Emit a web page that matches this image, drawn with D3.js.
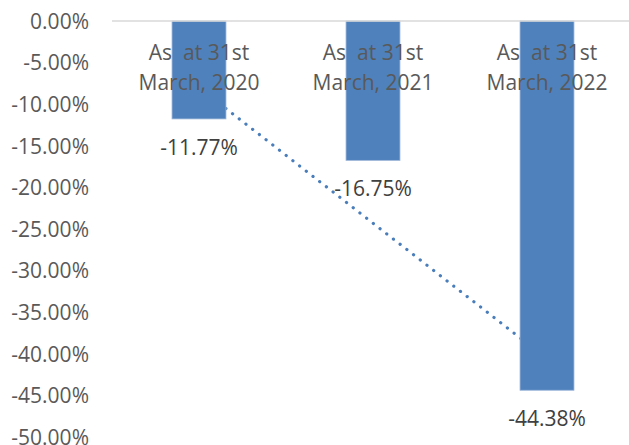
<!DOCTYPE html>
<html>
<head>
<meta charset="utf-8">
<script src="https://cdn.jsdelivr.net/npm/d3@7/dist/d3.min.js"></script>
<style>
  html, body { margin: 0; padding: 0; background: #fff; }
  svg { display: block; }
  text { font-family: "Open Sans", "Noto Sans", sans-serif; }
</style>
</head>
<body>
<script>
const categories = ["As  at 31st\nMarch, 2020", "As  at 31st\nMarch, 2021", "As  at 31st\nMarch, 2022"];
const values = [-11.77, -16.75, -44.38];
const yTicks = [0, -5, -10, -15, -20, -25, -30, -35, -40, -45, -50];

const W = 629, H = 445;
const margin = { top: 21, right: -5, bottom: 8, left: 112 };
const FS = "21px";

const svg = d3.select("body").append("svg").attr("width", W).attr("height", H);

const x = d3.scaleBand().domain(categories).range([margin.left, W - margin.right]).paddingInner(0.69).paddingOuter(0.345);
const y = d3.scaleLinear().domain([0, -50]).range([margin.top, H - margin.bottom]);

// Y axis labels
const yAxis = d3.axisLeft(y).tickValues(yTicks).tickFormat(d => d.toFixed(2) + "%").tickSize(0).tickPadding(0);
const gy = svg.append("g").attr("transform", `translate(89,0)`).call(yAxis);
gy.select(".domain").remove();
gy.selectAll("text").attr("fill", "#595959").style("font-size", FS).attr("dy", "0.35em");

// Trendline (linear regression) behind bars
const xi = values.map((v, i) => i + 1);
const n = values.length;
const mx = d3.mean(xi), my = d3.mean(values);
const slope = d3.sum(xi.map((v, i) => (v - mx) * (values[i] - my))) / d3.sum(xi.map(v => (v - mx) ** 2));
const intercept = my - slope * mx;
const cx = c => x(c) + x.bandwidth() / 2;
svg.append("line")
  .attr("x1", cx(categories[0])).attr("y1", y(intercept + slope * 1))
  .attr("x2", cx(categories[n - 1])).attr("y2", y(intercept + slope * n))
  .attr("stroke", "#4A7EBB").attr("stroke-width", 3.2)
  .attr("stroke-linecap", "round").attr("stroke-dasharray", "0.1 8.4");

// Bars
svg.selectAll("rect.bar").data(values).enter().append("rect")
  .attr("class", "bar")
  .attr("x", (d, i) => x(categories[i]))
  .attr("y", y(0))
  .attr("width", x.bandwidth())
  .attr("height", d => y(d) - y(0))
  .attr("fill", "#4F81BD")
  .attr("stroke", "#9BB5D8").attr("stroke-width", 0.8);

// zero line
svg.append("line").attr("x1", margin.left).attr("x2", W).attr("y1", y(0)).attr("y2", y(0))
  .attr("stroke", "#D9D9D9").attr("stroke-width", 1.3);

// Category labels
categories.forEach(c => {
  const t = svg.append("text").attr("x", cx(c)).attr("text-anchor", "middle")
    .attr("fill", "#595959").style("font-size", FS).style("white-space", "pre");
  c.split("\n").forEach((line, j) => {
    t.append("tspan").attr("x", cx(c)).attr("y", 60 + j * 29.5).text(line);
  });
});

// Data labels
svg.selectAll("text.lbl").data(values).enter().append("text")
  .attr("class", "lbl")
  .attr("x", (d, i) => cx(categories[i]))
  .attr("y", d => y(d) + 28.5)
  .attr("dy", "0.35em")
  .attr("text-anchor", "middle")
  .attr("fill", "#404040").style("font-size", FS)
  .text(d => d.toFixed(2) + "%");
</script>
</body>
</html>
